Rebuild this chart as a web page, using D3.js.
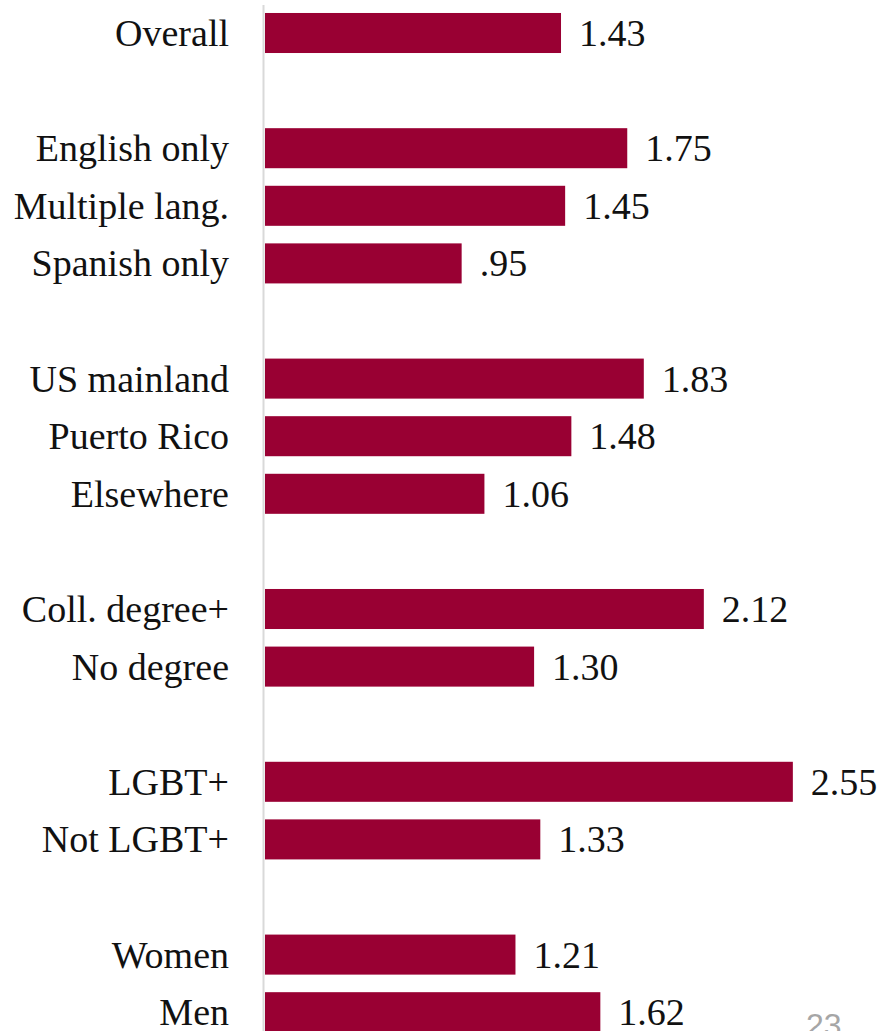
<!DOCTYPE html>
<html>
<head>
<meta charset="utf-8">
<script src="https://cdn.jsdelivr.net/npm/d3@7"></script>
<style>
  body { margin: 0; background: #fff; }
  svg { display: block; }
</style>
</head>
<body>
<svg id="chart" width="879" height="1031"></svg>
<script>
// rows, blank slots keep the gaps between groups
const categories = [
  "Overall", "", "English only", "Multiple lang.", "Spanish only", " ",
  "US mainland", "Puerto Rico", "Elsewhere", "  ",
  "Coll. degree+", "No degree", "   ",
  "LGBT+", "Not LGBT+", "    ",
  "Women", "Men"
];
const values = [
  1.43, null, 1.75, 1.45, 0.95, null,
  1.83, 1.48, 1.06, null,
  2.12, 1.30, null,
  2.55, 1.33, null,
  1.21, 1.62
];
const valueLabels = [
  "1.43", "", "1.75", "1.45", ".95", "",
  "1.83", "1.48", "1.06", "",
  "2.12", "1.30", "",
  "2.55", "1.33", "",
  "1.21", "1.62"
];
const pageNumber = "23";

const rows = categories.map((c, i) => ({ cat: c, value: values[i], label: valueLabels[i] }));

const svg = d3.select("#chart");
const x0 = 265;
const fontFamily = "'Liberation Serif', 'DejaVu Serif', serif";

const x = d3.scaleLinear().domain([0, 1]).range([x0, x0 + 207]);
const y = d3.scaleBand()
  .domain(categories)
  .range([4.2, 4.2 + 18 * 57.6])
  .paddingInner(0.305)
  .paddingOuter(0.1525);

// vertical axis line
svg.append("line")
  .attr("x1", x0 - 1.5).attr("x2", x0 - 1.5)
  .attr("y1", 5).attr("y2", 1031)
  .attr("stroke", "#d9d9d9")
  .attr("stroke-width", 2);

const bars = rows.filter(d => d.value != null);

svg.selectAll("rect.bar")
  .data(bars)
  .enter().append("rect")
  .attr("class", "bar")
  .attr("x", x(0))
  .attr("y", d => y(d.cat))
  .attr("width", d => x(d.value) - x(0))
  .attr("height", y.bandwidth())
  .attr("fill", "#990033");

// category labels
svg.selectAll("text.cat")
  .data(bars)
  .enter().append("text")
  .attr("class", "cat")
  .attr("x", 229)
  .attr("y", d => y(d.cat) + y.bandwidth() / 2)
  .attr("dy", "0.34em")
  .attr("text-anchor", "end")
  .attr("font-family", fontFamily)
  .attr("font-size", 38)
  .attr("fill", "#111")
  .text(d => d.cat);

// value labels
svg.selectAll("text.val")
  .data(bars)
  .enter().append("text")
  .attr("class", "val")
  .attr("x", d => x(d.value) + 18)
  .attr("y", d => y(d.cat) + y.bandwidth() / 2)
  .attr("dy", "0.34em")
  .attr("font-family", fontFamily)
  .attr("font-size", 38)
  .attr("fill", "#111")
  .text(d => d.label);

// page number, cut off by the bottom edge
svg.append("text")
  .attr("x", 806)
  .attr("y", 1036)
  .attr("font-family", "'Liberation Sans', sans-serif")
  .attr("font-size", 32)
  .attr("fill", "#a6a6a6")
  .text(pageNumber);
</script>
</body>
</html>
